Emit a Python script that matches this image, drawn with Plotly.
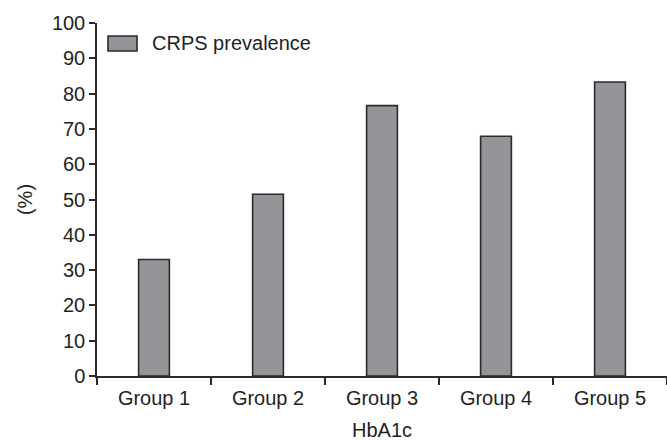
import plotly.graph_objects as go

categories = ["Group 1", "Group 2", "Group 3", "Group 4", "Group 5"]
prevalence = [33.0, 51.5, 76.6, 67.9, 83.3]
series_name = "CRPS prevalence"
y_ticks = list(range(0, 101, 10))

FONT = "Liberation Sans, Arial, sans-serif"
TXT = "#231f20"
BAR = "#939598"
EDGE = "#2b2b2b"

PW, PH = 570, 353  # plot area size in px

fig = go.Figure()
fig.add_trace(go.Bar(
    x=categories, y=prevalence, name=series_name,
    width=0.27, marker=dict(color=BAR, line=dict(color=EDGE, width=1.6)),
    showlegend=False,
))

# legend drawn manually to match the wide swatch
fig.add_shape(type="rect", xref="paper", yref="paper",
              x0=11 / PW, x1=40 / PW, y0=1 - 28 / PH, y1=1 - 13 / PH,
              fillcolor=BAR, line=dict(color=EDGE, width=1.6))
fig.add_annotation(xref="paper", yref="paper", x=53 / PW, y=1 - 20 / PH,
                   text=series_name, showarrow=False, xanchor="left", yanchor="middle",
                   font=dict(family=FONT, size=20, color=TXT))

fig.update_layout(
    width=667, height=441,
    margin=dict(l=97, r=0, t=23, b=65, autoexpand=False),
    paper_bgcolor="white", plot_bgcolor="white",
    font=dict(family=FONT, size=20, color=TXT),
)
fig.update_xaxes(
    type="category", range=[-0.5, 4.5], automargin=False,
    showline=True, linecolor=EDGE, linewidth=1.5,
    ticks="outside", tickson="boundaries", ticklen=7, tickcolor=EDGE, tickwidth=1.5,
    ticklabelstandoff=3,
    showgrid=False, zeroline=False,
    title=dict(text="HbA1c", font=dict(size=20), standoff=15),
)
fig.update_yaxes(
    range=[0, 100], tickvals=y_ticks, automargin=False,
    showline=True, linecolor=EDGE, linewidth=1.5,
    ticks="outside", ticklen=6, tickcolor=EDGE, tickwidth=1.5,
    showgrid=False, zeroline=False,
    title=dict(text="(%)", font=dict(size=20), standoff=14),
)

fig.write_html("out.html", config={"displayModeBar": False},
               post_script="document.body.style.margin='0';document.body.style.overflow='hidden';")
